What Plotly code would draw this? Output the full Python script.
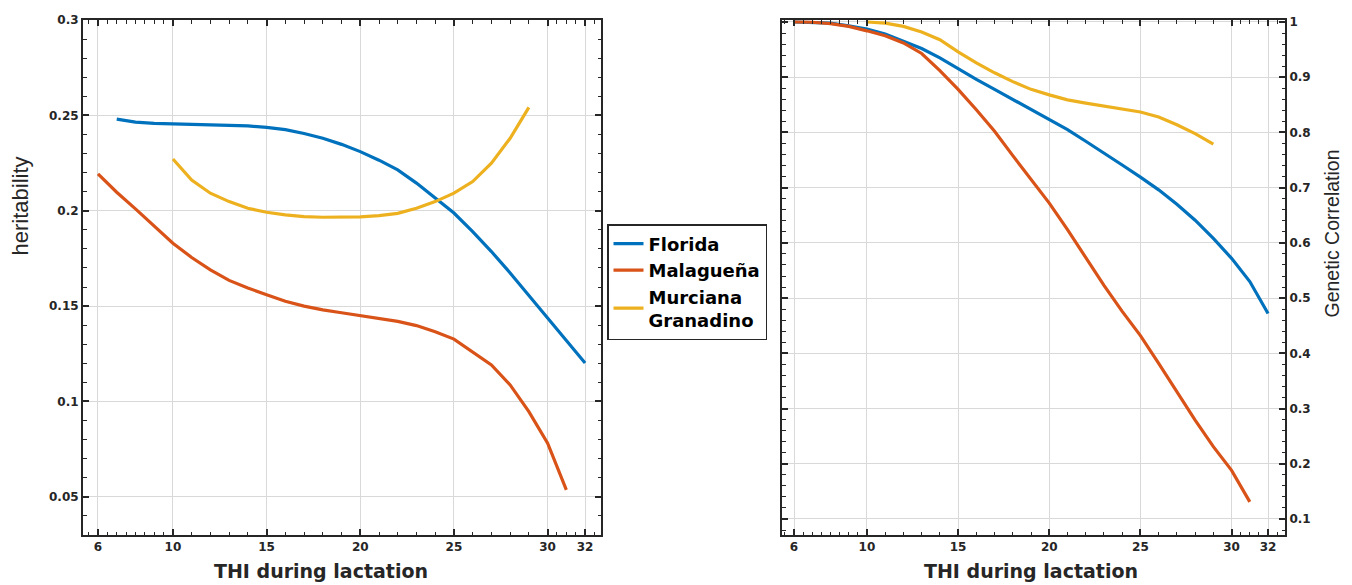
import plotly.graph_objects as go

# THI (temperature-humidity index) during lactation
thi_florida_h = list(range(7, 33))
thi_malaguena_h = list(range(6, 32))
thi_murciana_h = list(range(10, 30))

# Heritability by breed
h2_florida = [0.2480, 0.2465, 0.2458, 0.2455, 0.2453, 0.2452, 0.2450, 0.2445, 0.2437,
              0.2425, 0.2405, 0.2380, 0.2348, 0.2310, 0.2265, 0.2214, 0.2145, 0.2067,
              0.1988, 0.1890, 0.1786, 0.1674, 0.1559, 0.1438, 0.1320, 0.1202]
h2_malaguena = [0.2193, 0.2097, 0.2010, 0.1920, 0.1830, 0.1755, 0.1690, 0.1635, 0.1595,
                0.1560, 0.1525, 0.1500, 0.1480, 0.1465, 0.1450, 0.1437, 0.1420, 0.1398,
                0.1366, 0.1327, 0.1262, 0.1192, 0.1087, 0.0947, 0.0781, 0.0537]
h2_murciana = [0.2271, 0.2161, 0.2092, 0.2048, 0.2013, 0.1992, 0.1978, 0.1969, 0.1966,
               0.1966, 0.1968, 0.1974, 0.1986, 0.2013, 0.2048, 0.2092, 0.2153, 0.2249,
               0.2380, 0.2542]

thi_florida_r = list(range(6, 33))
thi_malaguena_r = list(range(6, 32))
thi_murciana_r = list(range(10, 30))

# Genetic correlation with the lowest THI
rg_florida = [1.000, 0.9995, 0.998, 0.993, 0.987, 0.978, 0.965, 0.952, 0.935, 0.915,
              0.896, 0.878, 0.860, 0.842, 0.824, 0.805, 0.784, 0.763, 0.741, 0.719,
              0.696, 0.670, 0.641, 0.608, 0.572, 0.530, 0.472]
rg_malaguena = [1.000, 0.9995, 0.997, 0.992, 0.984, 0.975, 0.962, 0.943, 0.912, 0.878,
                0.841, 0.802, 0.758, 0.714, 0.672, 0.624, 0.574, 0.523, 0.476, 0.432,
                0.382, 0.330, 0.279, 0.231, 0.188, 0.131]
rg_murciana = [1.000, 0.998, 0.992, 0.982, 0.968, 0.946, 0.926, 0.908, 0.892, 0.878,
               0.868, 0.859, 0.853, 0.848, 0.843, 0.837, 0.828, 0.814, 0.798, 0.779]

breeds = ["Florida", "Malagueña", "Murciana<br>Granadino"]
colors = ["#0072BD", "#D95319", "#EDB120"]

x_ticks = [6, 10, 15, 20, 25, 30, 32]
x_minor = [5.5, 6.5, 7, 7.5, 8, 8.5, 9, 9.5] + list(range(11, 30)) + [30.5, 31, 31.5, 32.5]
h_ticks = [0.05, 0.1, 0.15, 0.2, 0.25, 0.3]
h_ticktext = ["0.05", "0.1", "0.15", "0.2", "0.25", "0.3"]
rg_ticks = [0.1, 0.2, 0.3, 0.4, 0.5, 0.6, 0.7, 0.8, 0.9, 1.0]
rg_ticktext = ["0.1", "0.2", "0.3", "0.4", "0.5", "0.6", "0.7", "0.8", "0.9", "1"]

W, H = 1352, 585
INK = "#262626"
GRID = "#d9d9d9"
TICKFONT = dict(family="DejaVu Sans", size=12, color=INK, weight="bold")

fig = go.Figure()

left = [(thi_florida_h, h2_florida), (thi_malaguena_h, h2_malaguena), (thi_murciana_h, h2_murciana)]
right = [(thi_florida_r, rg_florida), (thi_malaguena_r, rg_malaguena), (thi_murciana_r, rg_murciana)]

for i, (xs, ys) in enumerate(left):
    fig.add_trace(go.Scatter(x=xs, y=ys, mode="lines", name=breeds[i],
                             line=dict(color=colors[i], width=3.2),
                             xaxis="x", yaxis="y", showlegend=True))
for i, (xs, ys) in enumerate(right):
    fig.add_trace(go.Scatter(x=xs, y=ys, mode="lines", name=breeds[i],
                             line=dict(color=colors[i], width=3.2),
                             xaxis="x2", yaxis="y2", showlegend=False))


def xaxis_style(dom, rng, anchor):
    return dict(domain=dom, range=rng, anchor=anchor, tickmode="array", tickvals=x_ticks,
                ticktext=[str(v) for v in x_ticks], ticks="inside", ticklen=6, tickwidth=1.5,
                tickcolor=INK, showline=True, linecolor=INK, linewidth=2, mirror="allticks",
                showgrid=True, gridcolor=GRID, gridwidth=1.2, zeroline=False, tickfont=TICKFONT,
                automargin=False,
                minor=dict(tickmode="array", tickvals=x_minor, ticks="inside", ticklen=3.5,
                           tickwidth=1.3, tickcolor=INK, showgrid=False))


def yaxis_style(dom, rng, anchor, vals, text, minor_vals, side):
    return dict(domain=dom, range=rng, anchor=anchor, side=side, tickmode="array",
                tickvals=vals, ticktext=text, ticks="inside", ticklen=6, tickwidth=1.5,
                tickcolor=INK, showline=True, linecolor=INK, linewidth=2, mirror="allticks",
                showgrid=True, gridcolor=GRID, gridwidth=1.2, zeroline=False, tickfont=TICKFONT,
                automargin=False,
                minor=dict(tickmode="array", tickvals=minor_vals, ticks="inside", ticklen=3.5,
                           tickwidth=1.3, tickcolor=INK, showgrid=False))


ydom = [50 / H, 565 / H]
h_minor = [round(0.03 + 0.01 * k, 2) for k in range(0, 28)]
rg_minor = [round(0.08 + 0.02 * k, 2) for k in range(0, 47)]

fig.update_layout(
    width=W, height=H,
    margin=dict(l=0, r=0, t=0, b=0, autoexpand=False),
    paper_bgcolor="white", plot_bgcolor="white",
    xaxis=xaxis_style([83 / W, 601 / W], [5.2, 32.85], "y"),
    yaxis=yaxis_style(ydom, [0.03, 0.3], "x", h_ticks, h_ticktext, h_minor, "left"),
    xaxis2=xaxis_style([782 / W, 1285 / W], [5.34, 32.93], "y2"),
    yaxis2=yaxis_style(ydom, [0.071, 1.0036], "x2", rg_ticks, rg_ticktext, rg_minor, "right"),
    legend=dict(x=607 / W, y=1 - 224 / H, xanchor="left", yanchor="top",
                bgcolor="white", bordercolor=INK, borderwidth=1.5,
                font=dict(family="DejaVu Sans", size=18, color="black", weight="bold"),
                tracegroupgap=0, itemwidth=30),
    showlegend=True,
)

title_font = dict(family="Liberation Sans", color=INK)
fig.add_annotation(text="heritability", x=20 / W, y=1 - 206.5 / H, xref="paper", yref="paper",
                   xanchor="center", yanchor="middle",
                   textangle=-90, showarrow=False, font=dict(size=22, **title_font))
fig.add_annotation(text="Genetic Correlation", x=1331 / W, y=1 - 233.5 / H, xref="paper",
                   yref="paper", xanchor="center", yanchor="middle",
                   textangle=-90, showarrow=False, font=dict(size=19.5, **title_font))
for cx in (321, 1031):
    fig.add_annotation(text="THI during lactation", x=cx / W, y=1 - 571 / H, xref="paper",
                       yref="paper", xanchor="center", yanchor="middle", showarrow=False,
                       font=dict(family="DejaVu Sans", size=19, color=INK, weight="bold"))

fig.write_html("out.html")
